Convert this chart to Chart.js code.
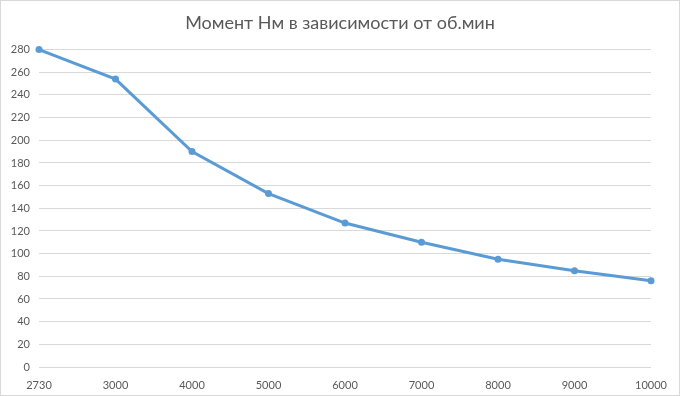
<!DOCTYPE html>
<html>
<head>
<meta charset="utf-8">
<script src="https://cdn.jsdelivr.net/npm/chart.js@4"></script>
<style>
  html, body { margin: 0; padding: 0; background: #fff; }
  #wrap { position: relative; width: 678px; height: 394px; border: 1px solid #d9d9d9; }
</style>
</head>
<body>
<div id="wrap"><canvas id="torque" width="678" height="394"></canvas></div>
<script>
// rpm categories and torque (Nm)
const rpmLabels = ['2730', '3000', '4000', '5000', '6000', '7000', '8000', '9000', '10000'];
const torqueNm = [280, 254, 190, 153, 127, 110, 95, 85, 76];
const yTicks = { min: 0, max: 280, step: 20 };

const lineBlue = '#5b9bd5';
const textGrey = '#595959';

const ctx = document.getElementById('torque').getContext('2d');
new Chart(ctx, {
  type: 'line',
  data: {
    labels: rpmLabels,
    datasets: [{
      data: torqueNm,
      borderColor: lineBlue,
      backgroundColor: lineBlue,
      borderWidth: 3,
      pointRadius: 3.5,
      pointBorderWidth: 0,
      tension: 0,
      clip: false
    }]
  },
  options: {
    responsive: false,
    animation: false,
    layout: { padding: 0 },
    plugins: {
      legend: { display: false },
      tooltip: { enabled: false },
      title: {
        display: true,
        text: 'Момент Нм в зависимости от об.мин',
        color: textGrey,
        font: { family: 'Lato', size: 18, weight: 'normal' },
        padding: { top: 11, bottom: 16 }
      }
    },
    scales: {
      x: {
        type: 'category',
        offset: false,
        grid: { display: false },
        border: { display: false },
        ticks: {
          color: textGrey,
          font: { family: 'Lato', size: 11 },
          maxRotation: 0,
          autoSkip: false,
          padding: 4
        },
        afterFit: s => { s.height = 28; }
      },
      y: {
        min: yTicks.min,
        max: yTicks.max,
        grid: { color: '#d9d9d9', lineWidth: 1, drawTicks: false },
        border: { display: false },
        ticks: {
          stepSize: yTicks.step,
          color: textGrey,
          font: { family: 'Lato', size: 11 },
          padding: 9
        },
        afterFit: s => { s.width = 38; }
      },
      // empty right-hand gutter so the title stays centred on the whole canvas
      gutter: {
        type: 'linear',
        position: 'right',
        grid: { display: false },
        border: { display: false },
        ticks: { display: false },
        afterFit: s => { s.width = 28; }
      }
    }
  }
});
</script>
</body>
</html>
